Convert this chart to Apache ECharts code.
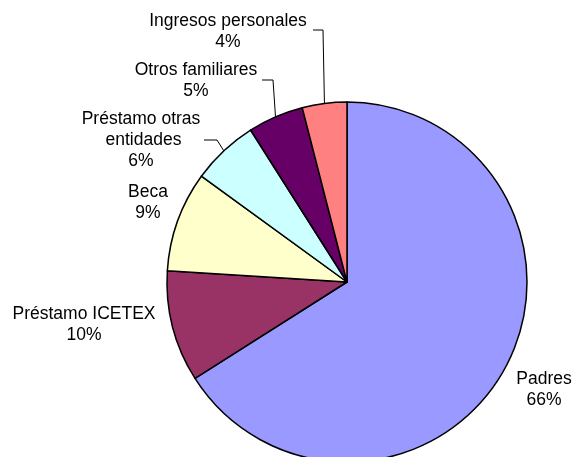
<!DOCTYPE html>
<html>
<head>
<meta charset="utf-8">
<script src="https://cdn.jsdelivr.net/npm/echarts@6/dist/echarts.min.js"></script>
<style>
html, body { margin: 0; padding: 0; background: #fff; }
#chart { width: 573px; height: 457px; }
</style>
</head>
<body>
<div id="chart"></div>
<script>
// categorias y valores (%)
var categories = ['Padres', 'Préstamo ICETEX', 'Beca', 'Préstamo otras entidades', 'Otros familiares', 'Ingresos personales'];
var values = [66, 10, 9, 6, 5, 4];
var colors = ['#9999FF', '#993366', '#FFFFCC', '#CCFFFF', '#660066', '#FF8080'];

// posicion de las etiquetas (centro del texto), como en el original
var labelPos = [[544, 390], [84, 325], [148, 203], [141, 140], [196, 81], [228, 32]];
// codo de las lineas guia: [punto de quiebre, punto final] (null = sin linea)
var leaders = [null, null, null, [[217, 140], [204, 140]], [[273, 80], [262, 80]], [[323, 30], [313, 30]]];

var myChart = echarts.init(document.getElementById('chart'));

var data = categories.map(function (name, i) {
    return {
        name: name,
        value: values[i],
        itemStyle: { color: colors[i] },
        labelLine: { show: !!leaders[i] },
        label: i === 3 ? { width: 130, overflow: 'break' } : {}
    };
});

var option = {
    animation: false,
    series: [{
        type: 'pie',
        center: [347, 282],
        radius: 180,
        startAngle: 90,
        clockwise: true,
        avoidLabelOverlap: false,
        itemStyle: { borderColor: '#000', borderWidth: 1.5 },
        label: {
            show: true,
            position: 'outside',
            formatter: '{b}\n{d}%',
            fontFamily: 'Liberation Sans, Arial, sans-serif',
            fontSize: 17.5,
            lineHeight: 21,
            color: '#000',
            align: 'center'
        },
        labelLine: {
            show: true,
            length: 10,
            length2: 10,
            lineStyle: { color: '#000', width: 1 }
        },
        emphasis: { disabled: true },
        labelLayout: function (params) {
            var i = params.dataIndex;
            var res = {
                x: labelPos[i][0],
                y: labelPos[i][1],
                align: 'center',
                verticalAlign: 'middle'
            };
            if (leaders[i] && params.labelLinePoints) {
                res.labelLinePoints = [params.labelLinePoints[0], leaders[i][0], leaders[i][1]];
            }
            return res;
        },
        data: data
    }]
};

myChart.setOption(option);
</script>
</body>
</html>
